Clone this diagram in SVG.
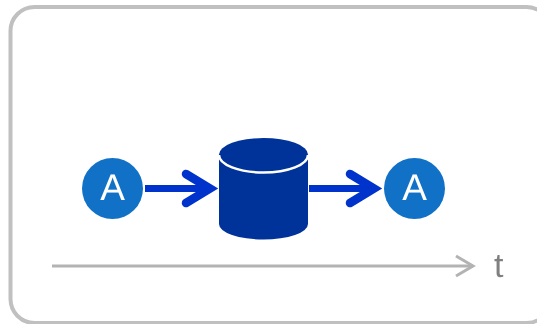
<svg xmlns="http://www.w3.org/2000/svg" width="537" height="324" viewBox="0 0 537 324">
<defs><filter id="gray" x="-20%" y="-20%" width="140%" height="140%"><feOffset dx="0" dy="0"/></filter></defs>
<style>
.a{fill:#1071c7}
.x{font-family:"Liberation Sans",Arial,sans-serif;text-rendering:geometricPrecision;filter:url(#gray)}
.l{font-size:37px;fill:#fff;text-anchor:middle}
.s{fill:none;stroke:#0033cc;stroke-width:7}
.h{fill:none;stroke:#0033cc;stroke-width:8.500;stroke-linecap:round;stroke-linejoin:miter}
.g{fill:none;stroke:#b3b3b3;stroke-width:3}
</style>
<rect id="frame" x="10.500" y="7" width="540" height="316" rx="24" ry="24" fill="#fff" stroke="#c0c0c0" stroke-width="4"/>
<g id="connectors">
<path class="s" d="M145 188.500H205"/>
<path class="h" d="M186 174L210 188.500L186 203"/>
<path class="s" d="M309 188.500H370"/>
<path class="h" d="M350 174L374 188.500L350 203"/>
<path class="g" d="M52 266H473"/>
<path class="g" d="M456 256L473 266L456 276"/>
</g>
<g id="source"><circle class="a" cx="112.500" cy="188.500" r="30.500"/><text class="x l" x="112.500" y="200">A</text></g>
<g id="store">
<path d="M219 154.500V224A44.500 15.500 0 0 0 308 224V154.500A44.500 16.500 0 0 0 219 154.500Z" fill="#003399"/>
<path d="M219 155A44.500 17.500 0 0 0 308 155" fill="none" stroke="#fff" stroke-width="2.500"/>
</g>
<g id="target"><circle class="a" cx="414.500" cy="188.500" r="30.500"/><text class="x l" x="414.500" y="200">A</text></g>
<text id="t" class="x" x="494" y="277" font-size="34" fill="#808080">t</text>
</svg>
